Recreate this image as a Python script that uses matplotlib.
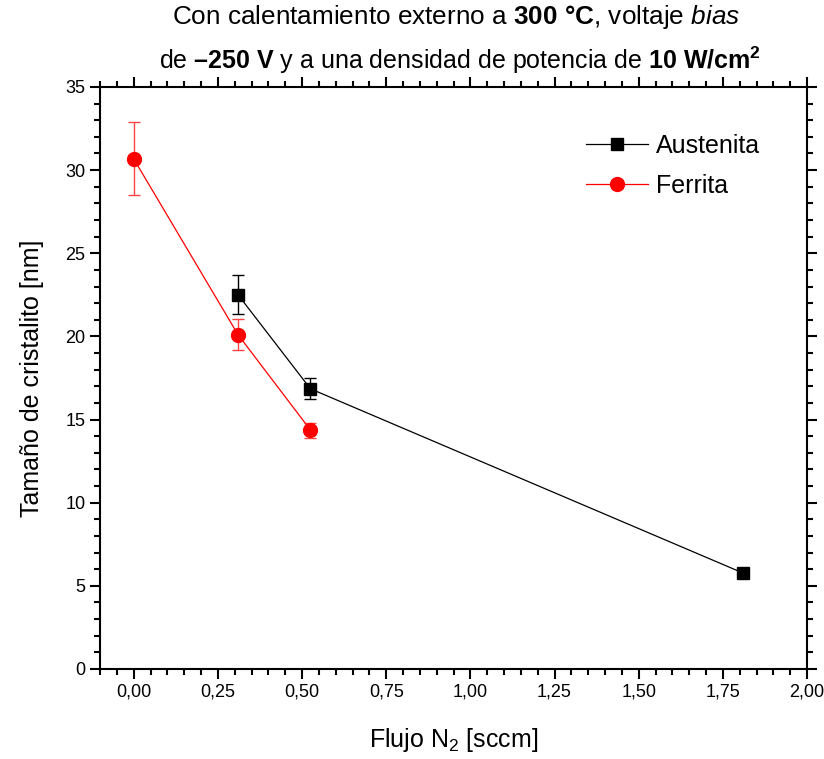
import matplotlib
matplotlib.use("Agg")
import matplotlib.pyplot as plt
from matplotlib.ticker import MultipleLocator, FuncFormatter
from matplotlib.lines import Line2D

fam = "Liberation Sans"
plt.rcParams['font.family'] = [fam, 'DejaVu Sans']
plt.rcParams['mathtext.fontset'] = 'custom'
plt.rcParams['mathtext.rm'] = fam
plt.rcParams['mathtext.bf'] = fam + ':bold'
plt.rcParams['mathtext.it'] = fam + ':italic'

aus_x = [0.31, 0.525, 1.81]
aus_y = [22.5, 16.85, 5.77]
aus_err = [1.17, 0.63, 0.0]
fer_x = [0.0, 0.31, 0.525]
fer_y = [30.68, 20.1, 14.37]
fer_err = [2.2, 0.93, 0.45]

fig = plt.figure(figsize=(8.24, 7.59), dpi=100)
ax = fig.add_axes([0.1214, 0.1186, 0.858, 0.7668])

ax.errorbar(aus_x, aus_y, yerr=aus_err, color='black', marker='s', ms=8, lw=0.9,
            capsize=4, elinewidth=1, capthick=1, zorder=3)
ax.errorbar(fer_x, fer_y, yerr=fer_err, color='red', marker='o', ms=10, lw=0.9,
            capsize=4, elinewidth=1, capthick=1, ecolor='#ff4444', zorder=3)

ax.set_xlim(-0.1, 2.0)
ax.set_ylim(0, 35)
ax.xaxis.set_major_locator(MultipleLocator(0.25))
ax.xaxis.set_minor_locator(MultipleLocator(0.05))
ax.yaxis.set_major_locator(MultipleLocator(5))
ax.yaxis.set_minor_locator(MultipleLocator(1))
ax.xaxis.set_major_formatter(FuncFormatter(lambda v, p: f"{v:.2f}".replace('.', ',')))
ax.tick_params(which='both', direction='out', top=True, right=True, labelsize=13, width=1.5)
ax.tick_params(which='major', length=7)
ax.tick_params(which='minor', length=4)
for s in ax.spines.values():
    s.set_linewidth(1.5)

ax.set_xlabel(r"Flujo N$_2$ [sccm]", fontsize=18, labelpad=18)
ax.set_ylabel("Tamaño de cristalito [nm]", fontsize=18, labelpad=15)

fig.text(0.553, 0.977, r"Con calentamiento externo a $\bf{300\ °C}$, voltaje $\it{bias}$",
         ha='center', va='center', fontsize=18.8)
fig.text(0.558, 0.921, r"de $\bf{–250\ V}$ y a una densidad de potencia de $\bf{10\ W/cm^2}$",
         ha='center', va='center', fontsize=18)

handles = [Line2D([], [], color='black', marker='s', ms=8, lw=0.9, label='Austenita'),
           Line2D([], [], color='red', marker='o', ms=10, lw=0.9, label='Ferrita')]
ax.legend(handles=handles, loc='upper left', bbox_to_anchor=(0.655, 0.958), frameon=False,
          fontsize=18, handlelength=2.5, handletextpad=0.3, labelspacing=0.65)

fig.savefig("out.png", dpi=100)
